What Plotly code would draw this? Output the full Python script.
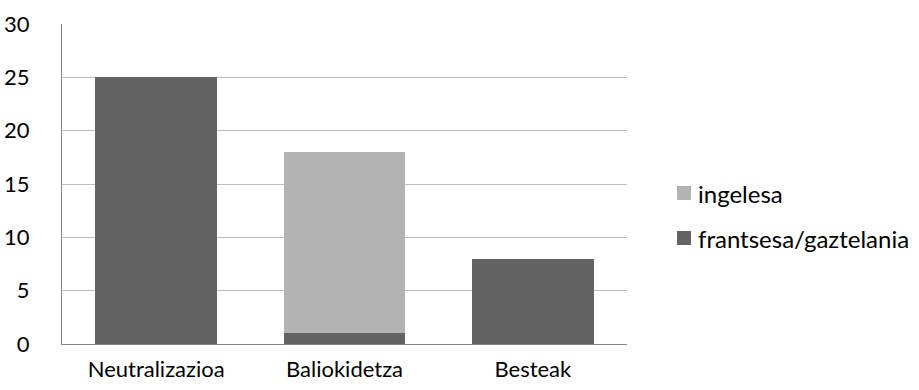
import plotly.graph_objects as go

categories = ["Neutralizazioa", "Baliokidetza", "Besteak"]
frantsesa_gaztelania = [25, 1, 8]
ingelesa = [0, 17, 0]
y_ticks = [0, 5, 10, 15, 20, 25, 30]

series = [
    ("frantsesa/gaztelania", frantsesa_gaztelania, "#636363"),
    ("ingelesa", ingelesa, "#B3B3B3"),
]

FONT = "Lato"

# plot area in pixels
W, H = 919, 390
L, R, T, B = 62, 292, 24, 46
PW, PH = W - L - R, H - T - B


def px_x(x):
    return (x - L) / PW


def px_y(y):
    return (H - B - y) / PH


fig = go.Figure()
for name, vals, color in series:
    fig.add_trace(go.Bar(
        x=categories, y=vals, name=name,
        marker=dict(color=color, line=dict(width=0)),
        showlegend=False,
    ))

# Legend drawn as square swatches with labels, top entry = last series
legend_rows = [193, 238]
for (name, _, color), row in zip(reversed(series), legend_rows):
    fig.add_shape(type="rect", xref="paper", yref="paper",
                  x0=px_x(677), x1=px_x(691), y0=px_y(row + 7), y1=px_y(row - 7),
                  line=dict(width=0), fillcolor=color)
    fig.add_annotation(xref="paper", yref="paper", x=px_x(696), y=px_y(row),
                       text=name, showarrow=False, xanchor="left",
                       yanchor="middle",
                       font=dict(family=FONT, size=24, color="#000000"))

fig.update_layout(
    barmode="stack",
    bargap=0.353,
    width=W, height=H,
    margin=dict(l=L, r=R, t=T, b=B),
    paper_bgcolor="white", plot_bgcolor="white",
    font=dict(family=FONT, size=22, color="#000000"),
)
fig.update_xaxes(
    showline=True, linecolor="#868686", linewidth=1,
    showgrid=False, ticks="", ticklabelstandoff=6, automargin=False,
)
fig.update_yaxes(
    range=[0, 30], tickvals=y_ticks,
    showline=True, linecolor="#868686", linewidth=1,
    showgrid=True, gridcolor="#BFBFBF", gridwidth=1,
    zeroline=False, ticks="", ticklabelstandoff=27, automargin=False,
)

fig.write_html("out.html")
